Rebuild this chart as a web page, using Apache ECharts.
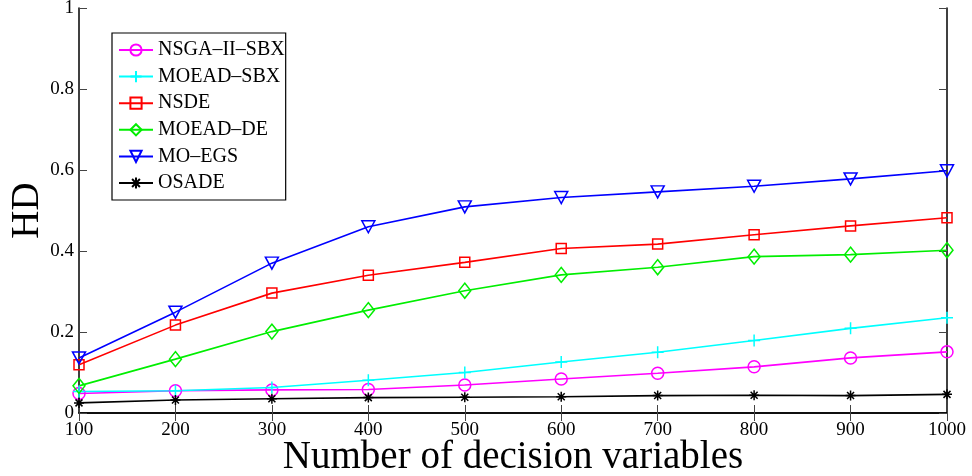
<!DOCTYPE html>
<html>
<head>
<meta charset="utf-8">
<script src="https://cdn.jsdelivr.net/npm/echarts@6/dist/echarts.min.js"></script>
<style>
  html, body { margin: 0; padding: 0; background: #fff; }
  #chart { width: 972px; height: 476px; }
</style>
</head>
<body>
<div id="chart"></div>
<script>
// Number of decision variables
const variables = [100, 200, 300, 400, 500, 600, 700, 800, 900, 1000];

// HD values per algorithm
const nsga2Sbx = [0.048, 0.055, 0.057, 0.058, 0.069, 0.084, 0.098, 0.114, 0.136, 0.151];
const moeadSbx = [0.053, 0.055, 0.063, 0.081, 0.100, 0.126, 0.150, 0.179, 0.209, 0.235];
const nsde     = [0.119, 0.217, 0.296, 0.340, 0.372, 0.406, 0.417, 0.440, 0.462, 0.482];
const moeadDe  = [0.067, 0.133, 0.201, 0.254, 0.302, 0.341, 0.360, 0.386, 0.391, 0.402];
const moEgs    = [0.136, 0.249, 0.370, 0.460, 0.509, 0.532, 0.546, 0.560, 0.578, 0.598];
const osade    = [0.025, 0.032, 0.035, 0.038, 0.039, 0.040, 0.043, 0.044, 0.043, 0.046];

const xTicks = [100, 200, 300, 400, 500, 600, 700, 800, 900, 1000];

const serif = 'Liberation Serif';

const plusPath = 'path://M0,-1L0,1M-1,0L1,0';
const starPath = 'path://M0,-1L0,1M-1,0L1,0M-0.7,-0.7L0.7,0.7M-0.7,0.7L0.7,-0.7';

function makeSeries(name, data, color, symbol, size, extra) {
  return Object.assign({
    name: name,
    type: 'line',
    data: variables.map((v, i) => [v, data[i]]),
    symbol: symbol,
    symbolSize: size,
    showAllSymbol: true,
    lineStyle: { color: color, width: 1.6 },
    itemStyle: { color: 'rgba(255,255,255,0)', borderColor: color, borderWidth: 1.5 },
    emphasis: { disabled: true },
    animation: false
  }, extra || {});
}

const series = [
  makeSeries('NSGA–II–SBX', nsga2Sbx, '#ff00ff', 'circle', 12),
  makeSeries('MOEAD–SBX', moeadSbx, '#00ffff', plusPath, 12),
  makeSeries('NSDE', nsde, '#ff0000', 'rect', 10),
  makeSeries('MOEAD–DE', moeadDe, '#00ee00', 'diamond', [12, 15]),
  makeSeries('MO–EGS', moEgs, '#0000ff', 'triangle', [13, 12], { symbolRotate: 180 }),
  makeSeries('OSADE', osade, '#000000', starPath, 10)
];

const chart = echarts.init(document.getElementById('chart'), null, { renderer: 'canvas' });

const axisLabelStyle = { fontFamily: serif, fontSize: 19, color: '#000' };

chart.setOption({
  backgroundColor: '#fff',
  animation: false,
  grid: { left: 79, top: 8, right: 25, bottom: 63, containLabel: false, outerBoundsMode: 'none' },
  legend: {
    orient: 'vertical',
    left: 112,
    top: 33,
    padding: [7, 1, 7, 6],
    itemWidth: 34,
    itemHeight: 14,
    itemGap: 6.6,
    backgroundColor: '#fff',
    borderColor: '#000',
    borderWidth: 1.2,
    textStyle: { fontFamily: serif, fontSize: 20, lineHeight: 20, color: '#000' },
    data: series.map(s => s.name)
  },
  xAxis: [{
    type: 'value',
    min: 100,
    max: 1000,
    interval: 100,
    position: 'bottom',
    name: 'Number of decision variables',
    nameLocation: 'middle',
    nameGap: 25,
    nameMoveOverlap: false,
    nameTextStyle: { fontFamily: serif, fontSize: 39, color: '#000', verticalAlign: 'top' },
    axisLine: { show: true, lineStyle: { color: '#000', width: 1.5 } },
    axisTick: { show: true, inside: true, length: 8, lineStyle: { color: '#444', width: 1 } },
    axisLabel: Object.assign({ margin: 8, formatter: v => xTicks.includes(v) ? String(v) : '' }, axisLabelStyle),
    splitLine: { show: false }
  }, {
    type: 'value',
    min: 100,
    max: 1000,
    interval: 100,
    position: 'top',
    axisLine: { show: true, lineStyle: { color: '#000', width: 1.5 } },
    axisTick: { show: true, inside: true, length: 8, lineStyle: { color: '#444', width: 1 } },
    axisLabel: { show: false },
    splitLine: { show: false }
  }],
  yAxis: [{
    type: 'value',
    min: 0,
    max: 1,
    interval: 0.2,
    position: 'left',
    name: 'HD',
    nameLocation: 'middle',
    nameGap: 32,
    nameMoveOverlap: false,
    nameTextStyle: { fontFamily: serif, fontSize: 39, color: '#000' },
    axisLine: { show: true, lineStyle: { color: '#000', width: 1.5 } },
    axisTick: { show: true, inside: true, length: 8, lineStyle: { color: '#444', width: 1 } },
    axisLabel: Object.assign({ margin: 5 }, axisLabelStyle),
    splitLine: { show: false }
  }, {
    type: 'value',
    min: 0,
    max: 1,
    interval: 0.2,
    position: 'right',
    axisLine: { show: true, lineStyle: { color: '#000', width: 1.5 } },
    axisTick: { show: true, inside: true, length: 8, lineStyle: { color: '#444', width: 1 } },
    axisLabel: { show: false },
    splitLine: { show: false }
  }],
  series: series
});
</script>
</body>
</html>
